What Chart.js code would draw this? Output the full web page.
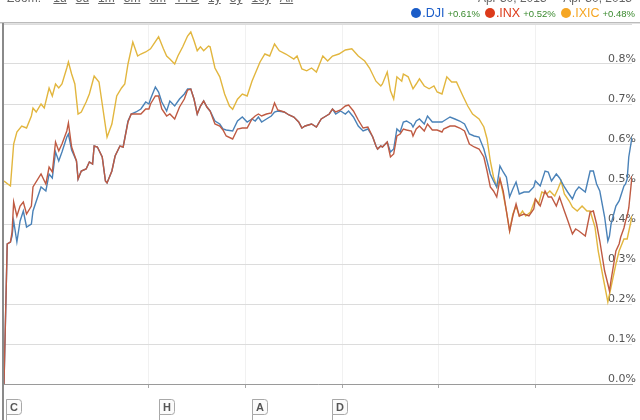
<!DOCTYPE html>
<html><head><meta charset="utf-8">
<script src="https://cdn.jsdelivr.net/npm/chart.js@4"></script>
<style>
html,body{margin:0;padding:0;background:#fff;width:640px;height:420px;overflow:hidden;font-family:"Liberation Sans",Arial,sans-serif;}
#wrap{position:relative;width:640px;height:420px;overflow:hidden;}
#c{position:absolute;left:0;top:0;}
.topl{position:absolute;top:-9px;left:7px;font-size:12px;color:#666;white-space:nowrap;}
.topl u{margin-left:9px;}
.topr{position:absolute;top:-9px;right:8px;font-size:12px;color:#666;white-space:nowrap;}
#legend{position:absolute;top:6px;right:5px;display:flex;align-items:center;white-space:nowrap;}
.it{display:flex;align-items:center;margin-left:5px;}
.dot{width:10px;height:10px;border-radius:50%;margin-right:1px;}
.nm{font-size:12.5px;}
.ch{font-size:9.5px;color:#3a8a2e;margin-left:3px;}
#rule1{position:absolute;left:0;top:22px;width:640px;height:1px;background:#bbb;}
#rule2{position:absolute;left:0;top:23px;width:640px;height:1px;background:#e2e2e2;}
#lborder{position:absolute;left:2px;top:23px;width:2px;height:397px;background:#8a8a8a;}
</style></head>
<body><div id="wrap">
<canvas id="c" width="640" height="420"></canvas>
<div class="topl">Zoom: <u>1d</u><u>5d</u><u>1m</u><u>3m</u><u>6m</u><u>YTD</u><u>1y</u><u>5y</u><u>10y</u><u>All</u></div>
<div class="topr">Apr 30, 2013 &nbsp;-&nbsp; Apr 30, 2013</div>
<div id="legend"></div>
<div id="rule1"></div><div id="rule2"></div>
<div id="lborder"></div>
</div>
<script>
// ---- data (minutes since 9:30 open, % change) ----
const seriesNames = ['.DJI', '.INX', '.IXIC'];
const seriesChanges = ['+0.61%', '+0.52%', '+0.48%'];
const legendColors = ['#1a5cc8', '#dc3a1a', '#f5a623'];
const lineColors = ['#4a82b8', '#bf5a42', '#e2b63e'];

const timesDjiInx = [0,2,4,5,6,8,10,12,14,17,18,23,26,28,30,32,34,36,39,40,42,45,46,48,51,53,55,56,58,61,63,64,67,69,72,74,77,79,82,85,88,90,91,94,96,98,101,103,106,109,112,114,116,118,120,122,124,126,128,131,134,136,138,142,145,148,151,154,156,158,160,163,166,168,170,174,177,180,183,185,187,191,194,197,200,202,204,206,209,212,214,217,220,223,226,229,231,232,234,235,238,240,242,244,246,248,250,253,254,256,258,261,263,266,269,272,273,277,280,283,286,289,292,295,298,300,302,304,306,308,310,312,314,316,318,320,323,326,329,330,333,336,338,340,343,345,348,350,353,355,357,361,364,366,368,370,373,375,376,377,380,382,383,385,386,387,388,390];

const dji = [0,0.35,0.355,0.37,0.4075,0.355,0.4075,0.4325,0.3925,0.40,0.4325,0.4925,0.4825,0.525,0.515,0.58,0.5575,0.58,0.6175,0.625,0.585,0.5575,0.5125,0.5325,0.5375,0.555,0.55,0.595,0.5925,0.5675,0.5075,0.5025,0.5325,0.57,0.595,0.5925,0.6575,0.675,0.68,0.6875,0.705,0.70,0.7125,0.7425,0.73,0.705,0.6825,0.7075,0.695,0.7125,0.725,0.7375,0.7375,0.7125,0.675,0.695,0.7075,0.6925,0.6825,0.6575,0.65,0.6375,0.635,0.6325,0.6575,0.6675,0.655,0.6625,0.6575,0.6675,0.655,0.6625,0.67,0.68,0.6825,0.68,0.6725,0.6675,0.655,0.64,0.645,0.65,0.6425,0.6625,0.67,0.675,0.6875,0.675,0.6825,0.675,0.6825,0.6675,0.645,0.6325,0.6375,0.6175,0.595,0.5875,0.595,0.5925,0.605,0.58,0.5875,0.6375,0.63,0.655,0.6575,0.65,0.6425,0.6575,0.6625,0.65,0.67,0.655,0.655,0.655,0.6575,0.6675,0.6625,0.6575,0.65,0.625,0.62,0.6175,0.5875,0.5575,0.525,0.5075,0.4925,0.545,0.53,0.5175,0.4675,0.4875,0.505,0.475,0.48,0.48,0.4925,0.5075,0.495,0.5325,0.53,0.5075,0.525,0.515,0.4925,0.48,0.4625,0.4825,0.4925,0.48,0.5325,0.5325,0.50,0.4825,0.4175,0.3575,0.37,0.40,0.445,0.4575,0.47,0.495,0.50,0.5125,0.5675,0.6175];

const inx = [0,0.35,0.355,0.38,0.455,0.42,0.445,0.455,0.425,0.445,0.4925,0.525,0.50,0.5425,0.53,0.605,0.5825,0.60,0.6325,0.6525,0.5925,0.5575,0.5125,0.5325,0.5375,0.555,0.55,0.595,0.5925,0.5675,0.5075,0.5025,0.5325,0.57,0.595,0.5925,0.655,0.675,0.675,0.675,0.6875,0.6875,0.70,0.72,0.72,0.6875,0.67,0.675,0.6625,0.6925,0.7125,0.735,0.7375,0.7125,0.675,0.695,0.7075,0.6925,0.6825,0.65,0.645,0.635,0.62,0.6125,0.6375,0.64,0.64,0.6625,0.67,0.675,0.67,0.675,0.6775,0.7025,0.685,0.68,0.6725,0.6675,0.655,0.64,0.645,0.65,0.6425,0.6625,0.67,0.675,0.6875,0.68,0.685,0.695,0.6975,0.6825,0.66,0.64,0.6425,0.6175,0.595,0.5875,0.595,0.5925,0.605,0.5675,0.575,0.62,0.625,0.6375,0.635,0.6325,0.62,0.6375,0.645,0.6325,0.65,0.635,0.635,0.63,0.6375,0.645,0.645,0.64,0.6325,0.60,0.5925,0.5875,0.5675,0.5325,0.4925,0.4825,0.4675,0.5125,0.4825,0.4325,0.3825,0.42,0.45,0.42,0.425,0.42,0.4375,0.4625,0.445,0.4825,0.4675,0.4675,0.445,0.4675,0.4325,0.41,0.375,0.3875,0.3825,0.37,0.43,0.4325,0.40,0.3575,0.2825,0.25,0.2325,0.26,0.3325,0.35,0.3675,0.39,0.4075,0.42,0.44,0.52];

const timesIxic = [0,4,6,8,11,14,17,18,20,23,25,28,30,32,34,36,39,40,42,44,46,48,51,53,56,59,61,64,67,70,73,75,77,80,83,85,88,91,96,99,101,103,106,108,111,114,116,118,120,122,124,127,128,131,134,137,140,142,145,148,151,154,159,162,165,168,171,175,180,182,185,188,191,194,198,201,204,208,212,216,220,224,227,231,234,235,238,240,242,244,247,248,251,254,256,258,261,264,267,269,272,275,278,281,285,288,291,295,298,300,302,304,306,308,310,312,314,316,318,320,322,324,327,330,332,334,337,339,342,344,346,348,351,353,356,359,362,364,367,369,372,375,377,380,382,385,387,389,390];

const ixic = [0.5075,0.495,0.60,0.63,0.645,0.64,0.67,0.69,0.68,0.70,0.69,0.74,0.72,0.75,0.74,0.75,0.79,0.805,0.775,0.75,0.675,0.68,0.705,0.725,0.77,0.755,0.70,0.617,0.65,0.72,0.74,0.75,0.80,0.855,0.82,0.825,0.83,0.838,0.868,0.838,0.82,0.8125,0.80,0.82,0.843,0.87,0.88,0.858,0.833,0.843,0.833,0.845,0.843,0.79,0.768,0.725,0.695,0.687,0.712,0.725,0.72,0.757,0.805,0.825,0.82,0.85,0.833,0.825,0.8125,0.82,0.7875,0.783,0.79,0.78,0.82,0.8075,0.82,0.825,0.835,0.838,0.82,0.8075,0.79,0.757,0.745,0.75,0.78,0.733,0.7125,0.768,0.757,0.775,0.768,0.738,0.75,0.763,0.745,0.738,0.745,0.73,0.725,0.768,0.755,0.755,0.72,0.695,0.675,0.6625,0.6425,0.6125,0.5575,0.5175,0.4925,0.5125,0.475,0.4325,0.3825,0.425,0.445,0.42,0.4325,0.42,0.43,0.4625,0.45,0.48,0.475,0.4825,0.47,0.4875,0.5075,0.475,0.4575,0.4425,0.4325,0.445,0.4325,0.4325,0.3925,0.3325,0.2675,0.205,0.2425,0.30,0.3325,0.3625,0.3625,0.40,0.42];

const yTicks = [0,0.1,0.2,0.3,0.4,0.5,0.6,0.7,0.8,0.9];
const hourTicks = [90,150,210,270,330];   // 11:00 ... 15:00
const flagLabels = ['C','H','A','D'];
const flagTimes = [1,96,154,204];

// ---- legend (HTML) ----
const lg = document.getElementById('legend');
seriesNames.forEach((n,i)=>{
  const d=document.createElement('div'); d.className='it';
  d.innerHTML='<span class="dot" style="background:'+legendColors[i]+'"></span><span class="nm" style="color:'+legendColors[i]+'">'+n+'</span><span class="ch">'+seriesChanges[i]+'</span>';
  lg.appendChild(d);
});

const toPts=(ts,vs)=>ts.map((t,i)=>({x:t,y:vs[i]}));

const flagPlugin={
  id:'flags',
  afterDraw(chart){
    const ctx=chart.ctx, xs=chart.scales.x;
    ctx.save();
    flagLabels.forEach((lab,i)=>{
      const x=Math.round(xs.getPixelForValue(flagTimes[i]))+0.5;
      const y=399.5, w=15, h=15;
      ctx.strokeStyle='#a8a8a8'; ctx.lineWidth=1;
      ctx.beginPath(); ctx.moveTo(x,y); ctx.lineTo(x,420); ctx.stroke();
      ctx.fillStyle='#fbfbfb';
      ctx.beginPath();
      ctx.moveTo(x,y); ctx.lineTo(x+w-3,y); ctx.quadraticCurveTo(x+w,y,x+w,y+3);
      ctx.lineTo(x+w,y+h-3); ctx.quadraticCurveTo(x+w,y+h,x+w-3,y+h); ctx.lineTo(x,y+h); ctx.closePath();
      ctx.fill(); ctx.stroke();
      ctx.fillStyle='#555'; ctx.font='bold 11px "Liberation Sans", Arial, sans-serif';
      ctx.textAlign='center'; ctx.textBaseline='middle';
      ctx.fillText(lab,x+w/2,y+h/2+0.5);
    });
    ctx.restore();
  }
};

new Chart(document.getElementById('c'),{
  type:'line',
  data:{datasets:[
    {label:seriesNames[0],data:toPts(timesDjiInx,dji),borderColor:lineColors[0],borderWidth:1.4,pointRadius:0,tension:0,order:2},
    {label:seriesNames[1],data:toPts(timesDjiInx,inx),borderColor:lineColors[1],borderWidth:1.4,pointRadius:0,tension:0,order:1},
    {label:seriesNames[2],data:toPts(timesIxic,ixic),borderColor:lineColors[2],borderWidth:1.4,pointRadius:0,tension:0,order:3}
  ]},
  options:{
    responsive:false,animation:false,
    layout:{padding:{left:4,top:24,right:0,bottom:32}},
    plugins:{legend:{display:false},tooltip:{enabled:false}},
    scales:{
      x:{type:'linear',min:0,max:390,
        afterBuildTicks:s=>{s.ticks=hourTicks.map(v=>({value:v}));},
        ticks:{display:false},
        grid:{color:'#f1f1f1',tickColor:'#aaa',tickLength:4,drawTicks:true},
        border:{color:'#9a9a9a',width:1}},
      y:{position:'right',min:0,max:0.9,
        afterBuildTicks:s=>{s.ticks=yTicks.map(v=>({value:v}));},
        ticks:{mirror:true,padding:4,labelOffset:-5,color:'#555',
          font:{family:'DejaVu Sans',size:11},
          callback:v=>v>=0.85?'':v.toFixed(1)+'%'},
        grid:{color:'#dcdcdc',drawTicks:false},
        border:{display:false}}
    }
  },
  plugins:[flagPlugin]
});
</script>
</body></html>
